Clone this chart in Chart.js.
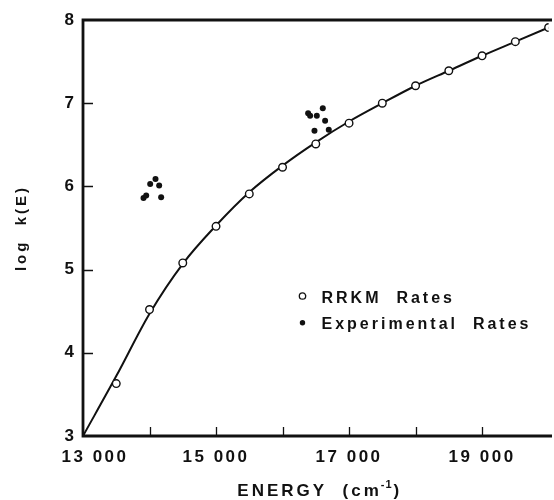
<!DOCTYPE html>
<html>
<head>
<meta charset="utf-8">
<script src="https://cdn.jsdelivr.net/npm/chart.js@4/dist/chart.umd.min.js"></script>
<style>
  html, body { margin: 0; padding: 0; background: #fff; }
  #c { display: block; }
</style>
</head>
<body>
<canvas id="c" width="554" height="500"></canvas>
<script>
// ---- data ----
const rrkmEnergy = [13500, 14000, 14500, 15000, 15500, 16000, 16500, 17000, 17500, 18000, 18500, 19000, 19500, 20000];
const rrkmLogK   = [3.63, 4.52, 5.08, 5.52, 5.91, 6.23, 6.51, 6.76, 7.00, 7.21, 7.39, 7.57, 7.74, 7.91];

const expEnergy = [13910, 13950, 14010, 14090, 14145, 14175, 16385, 16415, 16515, 16605, 16640, 16480, 16695];
const expLogK   = [5.86, 5.89, 6.03, 6.09, 6.01, 5.87, 6.88, 6.85, 6.85, 6.94, 6.79, 6.67, 6.68];

const curveEnergy = [13000, 13500, 14000, 14500, 15000, 15500, 16000, 16500, 17000, 17500, 18000, 18500, 19000, 19500, 20000];
const curveLogK   = [3.00, 3.72, 4.47, 5.07, 5.53, 5.93, 6.25, 6.53, 6.78, 7.00, 7.21, 7.39, 7.57, 7.74, 7.91];

const xTickLabels = ['13 000', '15 000', '17 000', '19 000'];
const xTickValues = [13000, 15000, 17000, 19000];
const xTitle = 'ENERGY  (cm';
const xTitleSup = '-1';
const yTitle = 'log  k(E)';
const legendLabels = ['RRKM  Rates', 'Experimental  Rates'];

const INK = '#111';
const FONT = '"Liberation Sans", Arial, Helvetica, sans-serif';

function pts(xs, ys) { return xs.map((x, i) => ({ x: x, y: ys[i] })); }

const decor = {
  id: 'decor',
  afterDraw(chart) {
    const ctx = chart.ctx;
    const a = chart.chartArea;
    const xs = chart.scales.x, ys = chart.scales.y;
    ctx.save();
    ctx.strokeStyle = INK;
    ctx.fillStyle = INK;

    // inner tick marks
    ctx.lineWidth = 1.3;
    ctx.beginPath();
    for (let v = 4; v <= 7; v++) {
      const y = Math.round(ys.getPixelForValue(v)) + 0.5;
      ctx.moveTo(a.left, y); ctx.lineTo(a.left + 10, y);
    }
    for (let v = 14000; v <= 19000; v += 1000) {
      const x = Math.round(xs.getPixelForValue(v)) + 0.5;
      ctx.moveTo(x, a.bottom); ctx.lineTo(x, a.bottom - 9);
    }
    ctx.stroke();

    // frame (left, top, bottom)
    ctx.lineWidth = 2.8;
    ctx.lineCap = 'square';
    ctx.beginPath();
    ctx.moveTo(a.right + 2, a.top);
    ctx.lineTo(a.left, a.top);
    ctx.lineTo(a.left, a.bottom);
    ctx.lineTo(a.right + 2, a.bottom);
    ctx.stroke();

    // x tick labels
    ctx.font = 'bold 17px ' + FONT;
    ctx.letterSpacing = '2.5px';
    ctx.textAlign = 'center';
    ctx.textBaseline = 'alphabetic';
    xTickLabels.forEach((lab, i) => {
      const shift = i === 0 ? 12 : 0;
      ctx.fillText(lab, xs.getPixelForValue(xTickValues[i]) + shift, 462);
    });

    // x title with superscript
    ctx.textAlign = 'left';
    ctx.letterSpacing = '3px';
    ctx.font = 'bold 17px ' + FONT;
    const w1 = ctx.measureText(xTitle).width;
    const w3 = ctx.measureText(')').width;
    ctx.font = 'bold 11px ' + FONT;
    ctx.letterSpacing = '1px';
    const w2 = ctx.measureText(xTitleSup).width;
    const total = w1 + w2 + w3;
    let tx = (a.left + a.right) / 2 + 4 - total / 2;
    ctx.font = 'bold 17px ' + FONT;
    ctx.letterSpacing = '3px';
    ctx.fillText(xTitle, tx, 496);
    tx += w1;
    ctx.font = 'bold 11px ' + FONT;
    ctx.letterSpacing = '1px';
    ctx.fillText(xTitleSup, tx - 1, 488);
    tx += w2;
    ctx.font = 'bold 17px ' + FONT;
    ctx.letterSpacing = '3px';
    ctx.fillText(')', tx, 496);

    // y title
    ctx.save();
    ctx.translate(26, (a.top + a.bottom) / 2);
    ctx.rotate(-Math.PI / 2);
    ctx.font = 'bold 15px ' + FONT;
    ctx.letterSpacing = '3px';
    ctx.textAlign = 'center';
    ctx.fillText(yTitle, 0, 0);
    ctx.restore();

    // legend
    ctx.font = 'bold 16px ' + FONT;
    ctx.letterSpacing = '3px';
    ctx.textAlign = 'left';
    ctx.lineWidth = 1.3;
    ctx.beginPath();
    ctx.arc(302.5, 296, 3.2, 0, Math.PI * 2);
    ctx.fillStyle = '#fff';
    ctx.fill();
    ctx.stroke();
    ctx.fillStyle = INK;
    ctx.fillText(legendLabels[0], 321.5, 302.5);
    ctx.beginPath();
    ctx.arc(302.5, 322.7, 2.7, 0, Math.PI * 2);
    ctx.fill();
    ctx.fillText(legendLabels[1], 321.5, 329.3);

    ctx.restore();
  }
};

new Chart(document.getElementById('c'), {
  type: 'scatter',
  data: {
    datasets: [
      {
        label: 'curve',
        data: pts(curveEnergy, curveLogK),
        showLine: true,
        borderColor: INK,
        borderWidth: 2,
        pointRadius: 0,
        cubicInterpolationMode: 'monotone',
        fill: false,
        order: 3
      },
      {
        label: legendLabels[0],
        data: pts(rrkmEnergy, rrkmLogK),
        showLine: false,
        pointRadius: 3.8,
        pointBorderWidth: 1.4,
        pointBorderColor: INK,
        pointBackgroundColor: '#fff',
        order: 1
      },
      {
        label: legendLabels[1],
        data: pts(expEnergy, expLogK),
        showLine: false,
        pointRadius: 3,
        pointBorderWidth: 0,
        pointBackgroundColor: INK,
        order: 2
      }
    ]
  },
  options: {
    responsive: false,
    animation: false,
    devicePixelRatio: 1,
    layout: { padding: { top: 20, right: 0, bottom: 0, left: 0 } },
    plugins: { legend: { display: false }, tooltip: { enabled: false } },
    scales: {
      x: {
        type: 'linear',
        min: 13000,
        max: 20000,
        ticks: { display: false, stepSize: 1000 },
        grid: { display: false, drawTicks: false, tickLength: 0 },
        border: { display: false },
        afterFit(s) { s.height = 64; }
      },
      y: {
        min: 3,
        max: 8,
        ticks: {
          stepSize: 1,
          padding: 9,
          color: INK,
          font: { family: FONT, size: 17, weight: 'bold' }
        },
        grid: { display: false, drawTicks: false, tickLength: 0 },
        border: { display: false },
        afterFit(s) { s.width = 83; }
      }
    }
  },
  plugins: [decor]
});
</script>
</body>
</html>
